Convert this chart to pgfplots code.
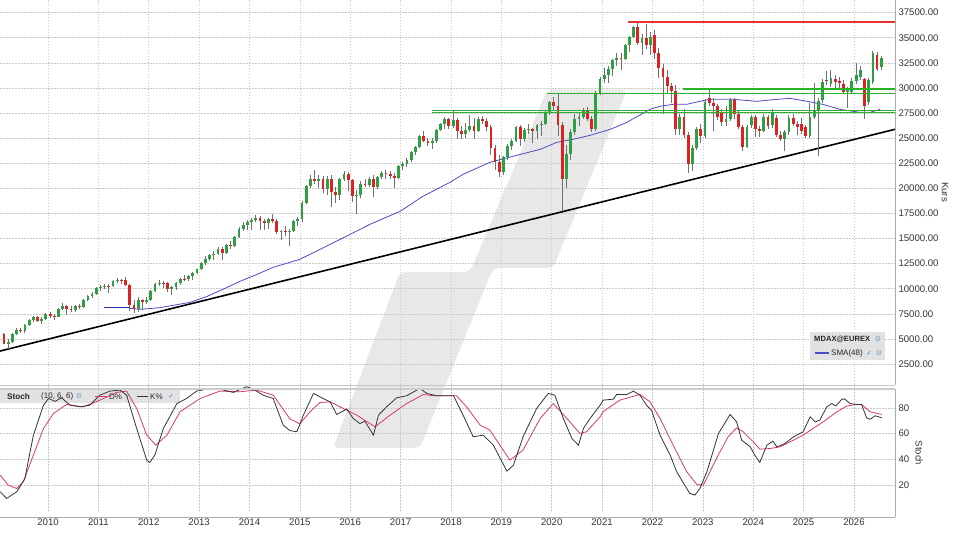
\documentclass[border=0pt]{standalone}
\usepackage{fontspec}
\setmainfont{Liberation Sans}
\newfontfamily\dejavu{DejaVu Sans}
\usepackage{pgfplots}
\pgfplotsset{compat=1.18}
\usepackage{pgfplotstable}

\definecolor{upg}{HTML}{2EA043}
\definecolor{dnr}{HTML}{DD2222}
\definecolor{wickc}{HTML}{707070}
\definecolor{smab}{HTML}{4B4BC8}
\definecolor{navyl}{HTML}{2828B0}
\definecolor{hgreen}{HTML}{30B030}
\definecolor{hgreenb}{HTML}{28B428}
\definecolor{hred}{HTML}{E83232}
\definecolor{gridc}{HTML}{C8C8C8}
\definecolor{wm}{HTML}{E8E8E8}
\definecolor{legbg}{HTML}{E2E2E2}
\definecolor{stochD}{HTML}{D93A62}
\definecolor{stochK}{HTML}{333333}
\definecolor{tickc}{HTML}{333333}
\definecolor{chk}{HTML}{2F7FD0}
\definecolor{gear}{HTML}{7A9CC0}

\pgfplotstableread{
t O H L C
2009.125 5450 5600 4450 4500
2009.208 4500 4950 4000 4700
2009.292 4700 5600 4600 5500
2009.375 5500 6100 5400 5900
2009.458 5900 6100 5600 5750
2009.542 5750 6450 5600 6400
2009.625 6400 7000 6300 6900
2009.708 6900 7300 6700 7150
2009.792 7150 7300 6700 6800
2009.875 6800 7200 6500 7000
2009.958 7000 7550 6900 7500
2010.042 7500 7700 7100 7300
2010.125 7300 7500 6900 7200
2010.208 7200 8100 7150 8000
2010.292 8000 8600 7900 8300
2010.375 8300 8400 7400 7950
2010.458 7950 8300 7700 7900
2010.542 7900 8400 7700 8300
2010.625 8300 8500 8000 8200
2010.708 8200 9000 8100 8900
2010.792 8900 9400 8800 9300
2010.875 9300 9700 9100 9500
2010.958 9500 10200 9400 10100
2011.042 10100 10400 9800 10150
2011.125 10150 10500 10000 10300
2011.208 10300 10500 9600 10250
2011.292 10250 10900 10200 10800
2011.375 10800 11100 10600 10900
2011.458 10900 11000 10500 10850
2011.542 10850 11200 10300 10400
2011.625 10400 10500 7800 8400
2011.708 8400 8900 7600 8000
2011.792 8000 9200 7700 8900
2011.875 8900 9000 7900 8700
2011.958 8700 9200 8500 8900
2012.042 8900 9900 8800 9800
2012.125 9800 10600 9700 10500
2012.208 10500 10900 10300 10600
2012.292 10600 10800 10100 10550
2012.375 10550 10700 9700 10000
2012.458 10000 10300 9400 10200
2012.542 10200 10700 9900 10600
2012.625 10600 11100 10400 11000
2012.708 11000 11400 10800 10950
2012.792 10950 11400 10800 11300
2012.875 11300 11700 10900 11600
2012.958 11600 12000 11500 11950
2013.042 11950 12700 11900 12600
2013.125 12600 13300 12400 13000
2013.208 13000 13500 12800 13400
2013.292 13400 13800 12900 13500
2013.375 13500 14200 13400 14000
2013.458 14000 14200 12900 13600
2013.542 13600 14500 13500 14400
2013.625 14400 14800 14000 14300
2013.708 14300 15300 14200 15200
2013.792 15200 16100 15100 16000
2013.875 16000 16600 15800 16300
2013.958 16300 16800 15900 16600
2014.042 16600 17000 15900 16800
2014.125 16800 17300 16600 17000
2014.208 17000 17200 15900 16700
2014.292 16700 16900 15900 16500
2014.375 16500 17000 16000 16900
2014.458 16900 17400 16500 16700
2014.542 16700 16900 15500 15700
2014.625 15700 15900 14900 15800
2014.708 15800 16200 15300 15700
2014.792 15700 16000 14300 15800
2014.875 15800 16800 15700 16700
2014.958 16700 17100 16200 16900
2015.042 16900 18700 16600 18500
2015.125 18500 20300 18400 20200
2015.208 20200 21300 20000 20900
2015.292 20900 21800 20400 20700
2015.375 20700 21300 20000 20900
2015.458 20900 21200 19500 19900
2015.542 19900 21200 19300 20900
2015.625 20900 21300 18100 19600
2015.708 19600 20100 18500 19300
2015.792 19300 21000 18800 20900
2015.875 20900 21700 20700 21400
2015.958 21400 21600 19700 20800
2016.042 20800 20900 18600 19200
2016.125 19200 19800 17400 19300
2016.208 19300 20700 19000 20400
2016.292 20400 20900 20100 20300
2016.375 20300 21100 20100 20900
2016.458 20900 21300 19100 20100
2016.542 20100 21200 19900 21100
2016.625 21100 21700 20900 21500
2016.708 21500 21800 20900 21400
2016.792 21400 21700 20900 21200
2016.875 21200 21500 20000 21000
2016.958 21000 22300 20900 22200
2017.042 22200 22600 21800 22400
2017.125 22400 23000 22100 22800
2017.208 22800 23700 22600 23600
2017.292 23600 24200 23300 24100
2017.375 24100 25300 24000 25200
2017.458 25200 25700 24600 24700
2017.542 24700 25000 24200 24500
2017.625 24500 25000 23900 24700
2017.708 24700 25900 24500 25800
2017.792 25800 26500 25700 26400
2017.875 26400 27100 25900 26900
2017.958 26900 27000 25900 26200
2018.042 26200 27700 26000 26800
2018.125 26800 27000 24900 25700
2018.208 25700 26200 24900 25400
2018.292 25400 26500 25000 25800
2018.375 25800 27300 25600 26200
2018.458 26200 27000 24900 25700
2018.542 25700 27100 25600 26900
2018.625 26900 27200 26400 26700
2018.708 26700 27000 25700 26100
2018.792 26100 26300 23300 24000
2018.875 24000 24300 21800 22600
2018.958 22600 23300 21100 21600
2019.042 21600 23200 21300 23100
2019.125 23100 24400 22800 24200
2019.208 24200 24900 23800 24700
2019.292 24700 26200 24600 26100
2019.375 26100 26300 24200 24900
2019.458 24900 26000 24600 25800
2019.542 25800 26400 25400 25900
2019.625 25900 26000 24500 25700
2019.708 25700 26400 24900 26300
2019.792 26300 26700 25200 26400
2019.875 26400 27700 26300 27600
2019.958 27600 28700 27300 28600
2020.042 28600 29100 27700 28200
2020.125 28200 29400 25200 26300
2020.208 26300 26600 17700 20900
2020.292 20900 24300 20000 23400
2020.375 23400 25900 22800 25600
2020.458 25600 27400 25300 26900
2020.542 26900 27500 26200 27100
2020.625 27100 28000 26900 27700
2020.708 27700 28100 26700 26900
2020.792 26900 27200 25600 25900
2020.875 25900 29700 25700 29500
2020.958 29500 31100 29300 30900
2021.042 30900 32000 30500 31300
2021.125 31300 32200 30500 31900
2021.208 31900 32900 31200 32800
2021.292 32800 33500 32200 33000
2021.375 33000 33500 31800 32900
2021.458 32900 34400 32800 34300
2021.542 34300 35200 33600 35100
2021.625 35100 36200 35000 36100
2021.708 36100 36500 34300 34500
2021.792 34500 35400 33300 35000
2021.875 35000 36400 33900 34300
2021.958 34300 35600 33300 35100
2022.042 35300 35800 32900 33500
2022.125 33500 34000 31000 32000
2022.208 32000 32400 27400 31100
2022.292 31100 31800 29500 30200
2022.375 30200 30500 28500 29700
2022.458 29700 30300 25300 25900
2022.542 25900 27400 25300 27100
2022.625 27100 27900 25000 25300
2022.708 25300 25600 21500 22400
2022.792 22400 24300 21700 24000
2022.875 24000 26100 23800 25900
2022.958 25900 26400 24500 25200
2023.042 25200 28900 25000 28600
2023.125 29000 29900 28200 28500
2023.208 28500 29000 25700 28200
2023.292 28200 28400 26800 27100
2023.375 27500 27900 26200 26600
2023.458 26600 28200 26200 26900
2023.542 26900 29000 26700 28800
2023.625 28800 29000 26900 27400
2023.708 27400 27700 25900 26100
2023.792 26100 26300 23700 24100
2023.875 24100 26300 24000 26100
2023.958 26300 27300 26000 27100
2024.042 27100 27300 25100 25900
2024.125 25900 26200 25100 25700
2024.208 25700 27400 25600 27100
2024.292 27100 27300 25900 26200
2024.375 26300 27900 26000 27500
2024.458 27000 27300 25100 25300
2024.542 25300 25700 24700 24900
2024.625 24900 25800 23700 25600
2024.708 25600 27300 25300 27000
2024.792 27000 27400 26200 26400
2024.875 26400 26700 25300 26100
2024.958 26400 27000 25400 25700
2025.042 26100 26300 25000 25200
2025.125 25200 28500 25000 27100
2025.208 27100 30500 26900 27700
2025.292 27700 29000 23200 28700
2025.375 28800 30900 28500 30600
2025.458 30800 31700 30300 30700
2025.542 30400 31800 30100 31000
2025.625 30900 31300 30000 30600
2025.708 30700 31100 29800 30500
2025.792 30400 30800 29400 29600
2025.875 29600 30100 28000 29900
2025.958 29600 31000 29400 30700
2026.042 30700 32500 30400 31300
2026.125 31100 32200 30800 31800
2026.208 30900 31000 26900 28200
2026.292 28600 31000 28300 30800
2026.375 30600 33700 30400 33500
2026.458 33300 33600 31700 31900
2026.542 32100 33200 31800 33000
}\candles

\pgfplotsset{
  base/.style={
    scale only axis, width=895pt, xmin=2009.047, xmax=2026.814,
    xtick={2010,...,2026}, grid=major,
    major grid style={gridc, dash pattern=on 1.5pt off 1.5pt, line width=0.5pt},
    major tick length=0pt,
    axis line style={draw=none},
    yticklabel pos=right,
    tick label style={font=\fontsize{9.6}{11}\selectfont, text=tickc},
    /pgf/number format/assume math mode=true,
    scaled x ticks=false, scaled y ticks=false,
  }
}

\begin{document}
\begin{tikzpicture}[x=1pt,y=1pt]
\path[use as bounding box] (0,0) rectangle (960,540);
% watermark
\fill[wm, rounded corners=6pt] (547,450) -- (627,450) -- (553,272) -- (493,272) -- (420,92) -- (333,92) -- (400,268) -- (470,268) -- cycle;

% stoch legend box (under the curves)
\fill[legbg] (0,137) rectangle (180,150);

\begin{axis}[base, at={(0,155)}, anchor=south west, height=384pt,
  ymin=478, ymax=38725, ytick={2500,5000,...,37500}, xticklabels={},
  yticklabel style={/pgf/number format/.cd, fixed, fixed zerofill, precision=2, 1000 sep={}}]
% trendline
\addplot[draw=black, line width=1.6pt] coordinates {(2009.047,3795) (2026.814,25880)};
% SMA 48
\addplot[draw=smab, line width=0.8pt] coordinates {
(2011.63,8048) (2011.83,7948) (2012.22,8117) (2012.82,8645) (2013.16,9243) (2013.47,9940)
(2013.81,10737) (2014.15,11434) (2014.47,12132) (2015.00,12928) (2015.80,14920) (2016.39,16414)
(2016.99,17709) (2017.44,19203) (2017.98,20598) (2018.24,21394) (2018.77,22589) (2019.23,23187)
(2019.77,23884) (2020.10,24581) (2020.42,24880) (2020.76,25278) (2021.16,25876) (2021.49,26573)
(2021.95,27868) (2022.15,28167) (2022.41,28366) (2022.68,28366) (2022.94,28665) (2023.14,28864)
(2023.60,28864) (2024.07,28665) (2024.47,28864) (2024.73,28964) (2025.07,28665) (2025.38,28366)
(2025.72,27868) (2026.12,27569) (2026.32,27569) (2026.52,27868)};
% candles: wicks
\addplot[draw=wickc, line width=0.9pt, no markers, quiver={u=0, v=\thisrow{H}-\thisrow{L}}] table[x=t, y=L] {\candles};
% bodies up
\addplot[draw=upg, line width=2.8pt, no markers, quiver={u=0, v=\thisrow{C}-\thisrow{O}},
  restrict expr to domain={\thisrow{C}-\thisrow{O}}{0:100000}] table[x=t, y=O] {\candles};
% bodies down
\addplot[draw=dnr, line width=2.8pt, no markers, quiver={u=0, v=\thisrow{C}-\thisrow{O}},
  restrict expr to domain={\thisrow{C}-\thisrow{O}}{-100000:0}] table[x=t, y=O] {\candles};
% horizontal lines (drawn over the candles)
\addplot[draw=hred, line width=1.3pt] coordinates {(2021.51,36580) (2026.814,36580)};
\addplot[draw=hgreen, line width=1.2pt] coordinates {(2017.62,27720) (2026.814,27720)};
\addplot[draw=hgreen, line width=1.2pt] coordinates {(2017.62,27540) (2026.814,27540)};
\addplot[draw={rgb,255:red,40;green,180;blue,40}, line width=1.6pt] coordinates {(2019.91,29430) (2026.814,29430)};
\addplot[draw=hgreenb, line width=1.6pt] coordinates {(2022.60,29880) (2026.814,29880)};
\addplot[draw={rgb,255:red,40;green,40;blue,176}, line width=1.3pt] coordinates {(2011.11,8150) (2011.63,8150)};
\end{axis}

\begin{axis}[base, at={(0,22.5)}, anchor=south west, height=129pt,
  ymin=0, ymax=100, ytick={20,40,60,80},
  xticklabel style={/pgf/number format/1000 sep={}, yshift=-4pt}]
\addplot[draw=stochD, line width=0.8pt] coordinates {
(2009.05,27.8) (2009.21,20) (2009.38,17.4) (2009.51,22.6) (2009.71,43.3) (2009.91,64) (2010.11,75.6)
(2010.37,82.6) (2010.70,80.7) (2011.03,85.9) (2011.36,91.9) (2011.56,92.9) (2011.76,79.5) (2011.96,58.8)
(2012.14,51) (2012.36,58.8) (2012.62,76.9) (2013.02,87.2) (2013.41,92.9) (2013.81,92.4) (2014.14,93.7)
(2014.47,89.8) (2014.80,71.5) (2015.00,67.5) (2015.20,76.9) (2015.40,84.1) (2015.60,84.6) (2015.86,79.5)
(2016.13,74.3) (2016.49,65.2) (2016.79,74.3) (2017.12,83.3) (2017.45,90.3) (2017.65,89.3) (2018.11,89.3)
(2018.31,80.7) (2018.58,66.5) (2018.77,62.7) (2019.17,39.4) (2019.43,47.2) (2019.77,71.7) (2020.03,83.3)
(2020.30,71.7) (2020.56,60.1) (2020.69,61.4) (2020.96,73) (2021.02,77) (2021.35,85.9) (2021.75,90.3)
(2021.95,84.6) (2022.15,71.7) (2022.41,51) (2022.68,30.4) (2022.88,20.5) (2023.01,20) (2023.27,40.7)
(2023.50,57.5) (2023.67,64.5) (2023.80,61.4) (2024.00,53.6) (2024.13,47.9) (2024.33,48.4) (2024.53,49.7)
(2024.80,54.9) (2024.99,58.8) (2025.19,64) (2025.39,69.1) (2025.66,76.9) (2025.86,81.4) (2026.05,82.6)
(2026.15,82.6) (2026.32,76.9) (2026.55,74.8)};
\addplot[draw=stochK, line width=0.8pt] coordinates {
(2009.05,14.9) (2009.18,9.7) (2009.38,14.9) (2009.54,25) (2009.71,58.8) (2009.91,82) (2010.01,87.2)
(2010.14,85) (2010.27,87.7) (2010.44,82) (2010.64,80.7) (2010.83,82) (2011.03,89.8) (2011.23,92.9)
(2011.43,93.7) (2011.56,89.8) (2011.76,64) (2011.96,39.4) (2012.02,37.6) (2012.12,43.3) (2012.29,64)
(2012.56,83.3) (2012.75,87.2) (2012.95,92.9) (2013.15,94.4) (2013.41,94.4) (2013.68,91.9) (2013.94,96.3)
(2014.08,94.4) (2014.27,89.8) (2014.47,87.2) (2014.67,66.5) (2014.80,62.3) (2014.94,61.4) (2015.07,74.3)
(2015.27,91.1) (2015.46,87.2) (2015.60,84.6) (2015.73,74.8) (2015.93,79) (2016.06,71.7) (2016.19,67.8)
(2016.29,69.6) (2016.46,58.8) (2016.56,74.3) (2016.72,80.7) (2016.92,87.7) (2017.12,89.3) (2017.38,95)
(2017.52,91.1) (2017.72,89.3) (2018.05,89.3) (2018.24,74.3) (2018.44,57.5) (2018.64,58.8) (2018.84,51)
(2019.11,30.9) (2019.24,35.5) (2019.43,57.5) (2019.70,79.5) (2019.93,91.1) (2020.06,89.8) (2020.23,71.7)
(2020.40,56.2) (2020.53,51) (2020.63,64) (2020.76,71.7) (2020.96,82) (2021.02,85.9) (2021.22,86.7)
(2021.29,90.3) (2021.49,90.3) (2021.62,92.9) (2021.75,89.8) (2021.88,82) (2021.98,78.1) (2022.15,58.8)
(2022.35,43.3) (2022.48,30.4) (2022.64,20) (2022.74,13.6) (2022.84,12.3) (2022.94,17.4) (2023.08,30.4)
(2023.31,60.1) (2023.54,74.8) (2023.67,69.1) (2023.77,54.9) (2023.94,49.7) (2024.03,43.3) (2024.13,37.6)
(2024.27,51) (2024.39,54.1) (2024.47,49.7) (2024.63,52.3) (2024.80,57.5) (2024.99,61.4) (2025.13,73)
(2025.23,69.1) (2025.32,70.4) (2025.46,80.7) (2025.56,83.3) (2025.64,81.4) (2025.76,86.7) (2025.82,86.7)
(2025.92,83.3) (2026.05,82.6) (2026.15,82.6) (2026.25,72.2) (2026.32,71.1) (2026.42,73.8) (2026.55,72.2)};
\end{axis}

% frame lines
\draw[gray!45, line width=0.7pt] (0,155) -- (895,155);
\draw[gray!40, line width=1.4pt] (0,151) -- (895,151);
\draw[gray!65, line width=0.7pt] (895,540) -- (895,155);
\draw[gray!65, line width=0.7pt] (895,151) -- (895,22.5);
\draw[gray!65, line width=0.7pt] (0,22.5) -- (895,22.5);

% axis titles
\node[rotate=-90, font=\fontsize{9.6}{11}\selectfont, text=tickc] at (945,348) {Kurs};
\node[rotate=-90, font=\fontsize{9.6}{11}\selectfont, text=tickc] at (919,87) {Stoch};

% main legend
\fill[legbg] (810,180) rectangle (885,208);
\node[anchor=west, inner sep=0pt, font=\bfseries\fontsize{7.6}{9}\selectfont, text=black!85] at (814,201) {MDAX@EUREX};
\node[inner sep=0pt, font=\dejavu\fontsize{7}{8}\selectfont, text=gear] at (878,201) {⚙};
\draw[smab, line width=1.6pt] (815,187) -- (829,187);
\node[anchor=west, inner sep=0pt, font=\fontsize{8}{9}\selectfont, text=black!85] at (831,187) {SMA(48)};
\node[inner sep=0pt, font=\dejavu\fontsize{6.5}{8}\selectfont, text=chk] at (869,187) {✓};
\node[inner sep=0pt, font=\dejavu\fontsize{7}{8}\selectfont, text=gear] at (879,187) {⚙};

% stoch legend
\node[anchor=west, inner sep=0pt, font=\bfseries\fontsize{8.2}{9}\selectfont, text=black!85] at (7,143.5) {Stoch};
\node[anchor=west, inner sep=0pt, font=\fontsize{8}{9}\selectfont, text=black!85] at (41,143.5) {(10, 6, 6)};
\node[inner sep=0pt, font=\dejavu\fontsize{7}{8}\selectfont, text=gear] at (79,143.5) {⚙};
\draw[stochD, line width=1.4pt] (95,143.5) -- (107,143.5);
\node[anchor=west, inner sep=0pt, font=\fontsize{8}{9}\selectfont, text=black!85] at (109,143.5) {D\%};
\node[inner sep=0pt, font=\dejavu\fontsize{6.5}{8}\selectfont, text=chk] at (128,143.5) {✓};
\draw[stochK, line width=1.4pt] (137,143.5) -- (148,143.5);
\node[anchor=west, inner sep=0pt, font=\fontsize{8}{9}\selectfont, text=black!85] at (150,143.5) {K\%};
\node[inner sep=0pt, font=\dejavu\fontsize{6.5}{8}\selectfont, text=chk] at (171,143.5) {✓};
\end{tikzpicture}
\end{document}
